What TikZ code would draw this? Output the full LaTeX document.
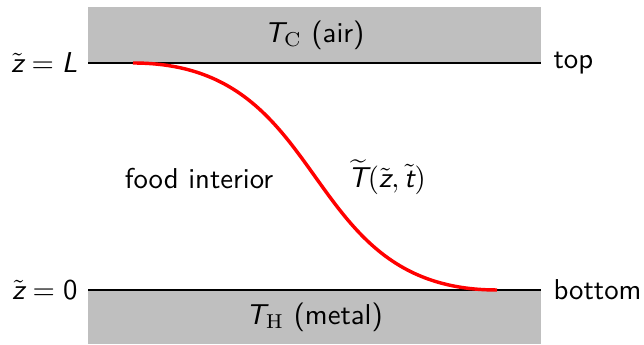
\documentclass[tikz,border=0pt]{standalone}
\newcommand{\sv}[1]{\textsf{\itshape #1}}
\begin{document}
\begin{tikzpicture}[x=0.348pt,y=-0.348pt,
  lbl/.style={font=\sffamily, inner sep=0pt},
  slab/.style={fill=black!25, draw=none},
  wall/.style={line width=0.8pt, black},
  profile/.style={line width=1.2pt, red}]
\useasboundingbox (0,0) rectangle (644,345);
\fill[slab] (88,7) rectangle (541,63);
\fill[slab] (88,290) rectangle (541,344);
\coordinate (tl) at (88,63);
\coordinate (tr) at (541,63);
\coordinate (bl) at (88,290);
\coordinate (br) at (541,290);
\draw[wall] (tl) -- (tr);
\draw[wall] (bl) -- (br);
\coordinate (ps) at (133,63);
\coordinate (pe) at (497,290);
\draw[profile] (ps) .. controls (335,63) and (295,290) .. (pe);
\node[lbl] (air) at (314.5,35) {$\sv{T}_\mathrm{C}$ (air)};
\node[lbl] (metal) at (314.5,317) {$\sv{T}_\mathrm{H}$ (metal)};
\node[lbl, anchor=east] (zL) at (78,63) {$\tilde{\sv{z}} = \sv{L}$};
\node[lbl, anchor=east] (z0) at (78,290) {$\tilde{\sv{z}} = \textsf{0}$};
\node[lbl, anchor=west] (top) at (553,63) {top};
\node[lbl, anchor=west] (bot) at (553,290) {bottom};
\node[lbl] (food) at (199,179) {food interior};
\node[lbl] (T) at (387,177) {$\widetilde{\sv{T}}(\tilde{\sv{z}},\tilde{\sv{t}})$};
\end{tikzpicture}
\end{document}
